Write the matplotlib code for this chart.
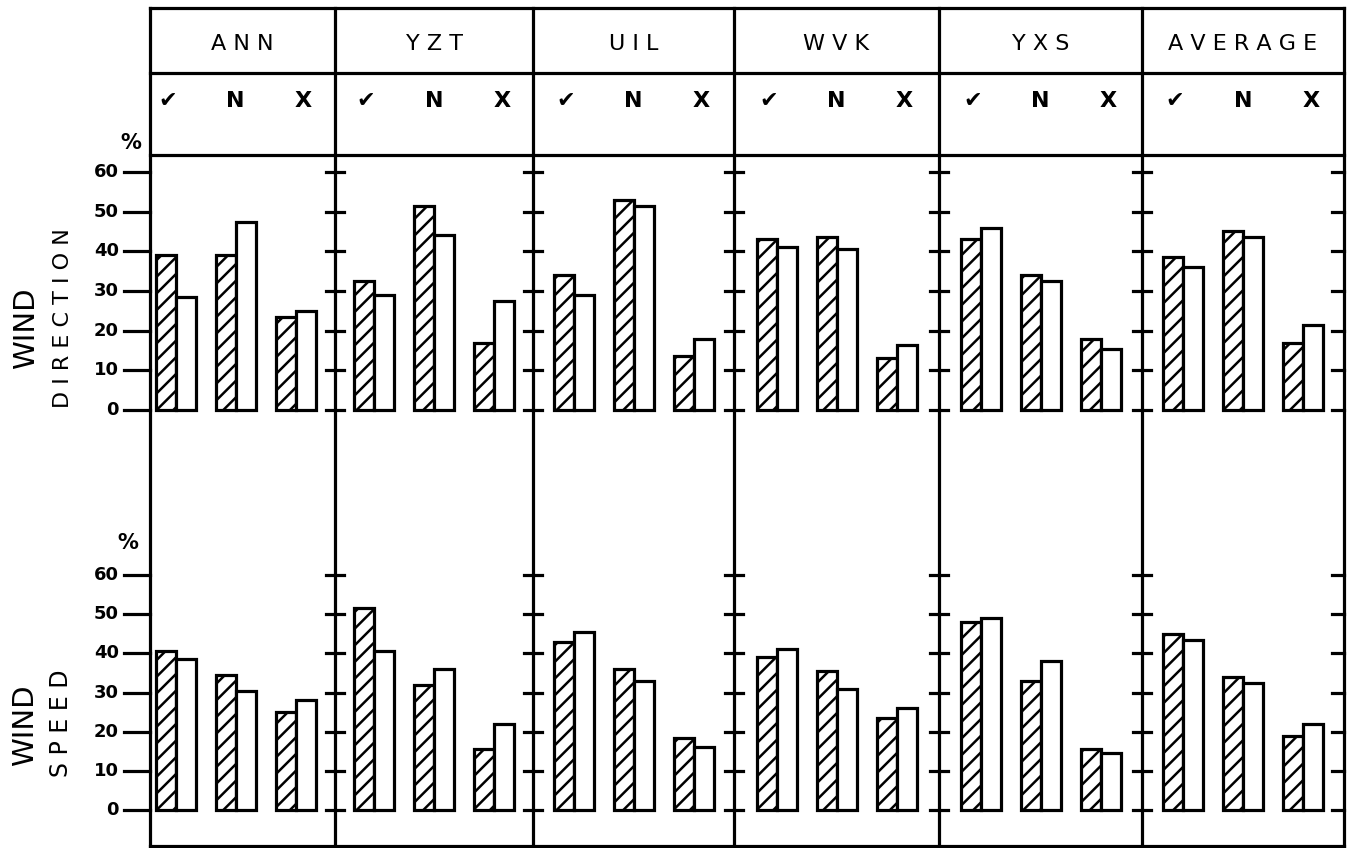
import matplotlib.pyplot as plt

plt.rcParams['font.family'] = ['DejaVu Sans']
plt.rcParams['hatch.linewidth'] = 1.8

stations = ['ANN', 'YZT', 'UIL', 'WVK', 'YXS', 'AVERAGE']
classes = ['✔', 'N', 'X']
yticks = [0, 10, 20, 30, 40, 50, 60]

# wind direction (%) per station, groups ✓ / N / X
dir_hatched = [[39, 39, 23.5], [32.5, 51.5, 17], [34, 53, 13.5],
               [43, 43.5, 13], [43, 34, 18], [38.5, 45, 17]]
dir_open = [[28.5, 47.5, 25], [29, 44, 27.5], [29, 51.5, 18],
            [41, 40.5, 16.5], [46, 32.5, 15.5], [36, 43.5, 21.5]]

# wind speed (%)
spd_hatched = [[40.5, 34.5, 25], [51.5, 32, 15.5], [43, 36, 18.5],
               [39, 35.5, 23.5], [48, 33, 15.5], [45, 34, 19]]
spd_open = [[38.5, 30.5, 28], [40.5, 36, 22], [45.5, 33, 16],
            [41, 31, 26], [49, 38, 14.5], [43.5, 32.5, 22]]

# layout (pixels)
W, H = 1352, 848
edges = [150, 335, 533, 734, 939, 1142, 1344]
shift = [-7, 0, 0, 0, 0, 0]
top_y, head_y, sub_y, bot_y = 8, 73, 155, 846
gap, bw = 60, 20
lw = 2.3

fig = plt.figure(figsize=(W / 100, H / 100), dpi=100)
frame = fig.add_axes([0, 0, 1, 1])
frame.set_xlim(0, W)
frame.set_ylim(H, 0)
frame.axis('off')

# table grid
for y in (top_y, head_y, sub_y, bot_y):
    frame.plot([edges[0], edges[-1]], [y, y], color='black', lw=lw)
for x in edges:
    frame.plot([x, x], [top_y, H], color='black', lw=lw)

for c, name in enumerate(stations):
    mid = (edges[c] + edges[c + 1]) / 2
    frame.text(mid, (top_y + head_y) / 2 + 3, ' '.join(name), ha='center', va='center',
               fontsize=16)
    for g, cl in enumerate(classes):
        frame.text(mid + shift[c] + (g - 1) * 68, 101, cl, ha='center', va='center',
                   fontsize=16, fontweight='bold')

# row titles and % marks
frame.text(26, 328, 'WIND', rotation=90, ha='center', va='center', fontsize=21)
frame.text(63, 318, 'D I R E C T I O N', rotation=90, ha='center', va='center', fontsize=16)
frame.text(25, 725, 'WIND', rotation=90, ha='center', va='center', fontsize=21)
frame.text(61, 723, 'S P E E D', rotation=90, ha='center', va='center', fontsize=17)
frame.text(131, 143, '%', ha='center', va='center', fontsize=15, fontweight='bold')
frame.text(128, 543, '%', ha='center', va='center', fontsize=15, fontweight='bold')


def panel(y0, y60, hatched, opened):
    s = (y0 - y60) / 60
    ax = fig.add_axes([0, 0, 1, 1])
    ax.set_xlim(0, W)
    ax.set_ylim(-(H - y0) / s, y0 / s)
    ax.axis('off')
    ax.patch.set_alpha(0)
    for c in range(len(stations)):
        mid = (edges[c] + edges[c + 1]) / 2 + shift[c]
        for g in range(len(classes)):
            gc = mid + (g - 1) * gap
            ax.bar(gc - bw / 2, hatched[c][g], bw, color='white', edgecolor='black',
                   hatch='//', lw=lw)
            ax.bar(gc + bw / 2, opened[c][g], bw, color='white', edgecolor='black', lw=lw)
    for v in yticks:
        ax.plot([124, edges[0]], [v, v], color='black', lw=lw)
        for e in edges[1:-1]:
            ax.plot([e - 9, e + 9], [v, v], color='black', lw=lw)
        ax.plot([edges[-1] - 12, edges[-1]], [v, v], color='black', lw=lw)
        ax.text(119, v, str(v), ha='right', va='center', fontsize=13, fontweight='bold')
    return ax


panel(410, 172, dir_hatched, dir_open)
panel(810, 575, spd_hatched, spd_open)

fig.savefig('out.png', dpi=100)
